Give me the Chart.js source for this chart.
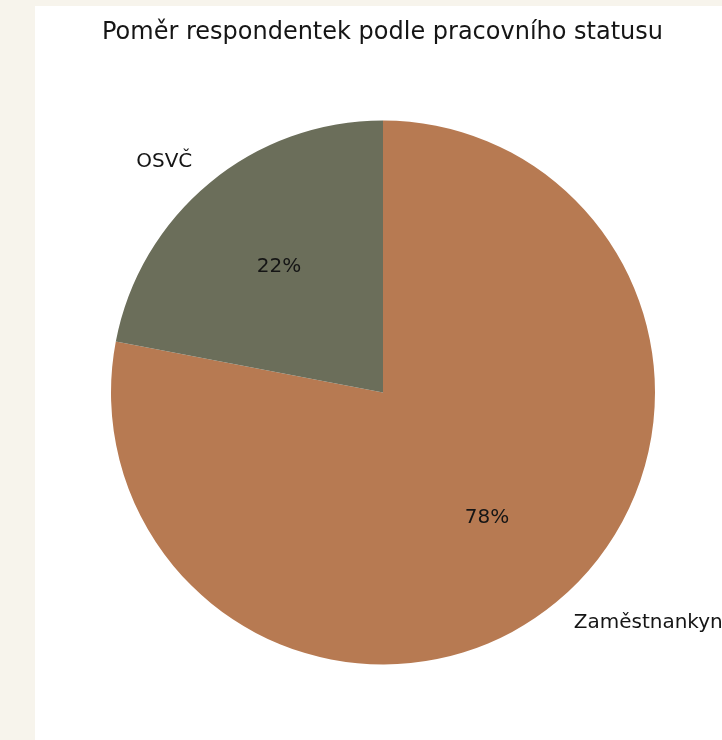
<!DOCTYPE html>
<html><head><meta charset="utf-8">
<script src="https://cdn.jsdelivr.net/npm/chart.js@4/dist/chart.umd.min.js"></script>
<style>
html,body{margin:0;padding:0;background:#f7f4ec;width:722px;height:740px;overflow:hidden}
#box{position:absolute;left:35px;top:6px;width:687px;height:734px;background:#fff}
</style></head><body>
<div id="box"><canvas id="c" width="687" height="734"></canvas></div>
<script>
const title = "Poměr respondentek podle pracovního statusu";
const categories = ["Zaměstnankyně", "OSVČ"];
const values = [78, 22];
const colors = ["#b77a52", "#6b6e5a"];

const labelPlugin = {
  id: 'labels',
  afterDatasetsDraw(chart) {
    const ctx = chart.ctx;
    const meta = chart.getDatasetMeta(0);
    const total = values.reduce((a, b) => a + b, 0);
    ctx.save();
    ctx.fillStyle = '#151515';
    meta.data.forEach((arc, i) => {
      const p = arc.getProps(['x', 'y', 'startAngle', 'endAngle', 'outerRadius'], true);
      const mid = (p.startAngle + p.endAngle) / 2;
      const c = Math.cos(mid), s = Math.sin(mid);
      ctx.font = '20px "DejaVu Sans"';
      ctx.textBaseline = 'middle';
      ctx.textAlign = 'center';
      const pct = Math.round(values[i] / total * 100) + '%';
      ctx.fillText(pct, p.x + c * p.outerRadius * 0.6, p.y + s * p.outerRadius * 0.6);
      ctx.textAlign = c >= 0 ? 'left' : 'right';
      ctx.fillText(categories[i], p.x + c * p.outerRadius * 1.1, p.y + s * p.outerRadius * 1.1);
    });
    ctx.font = '24px "DejaVu Sans"';
    ctx.textAlign = 'center';
    ctx.textBaseline = 'middle';
    ctx.fillText(title, 347.5, 27);
    ctx.restore();
  }
};

new Chart(document.getElementById('c'), {
  type: 'pie',
  data: { labels: categories, datasets: [{ data: values, backgroundColor: colors, borderWidth: 0 }] },
  options: {
    responsive: false,
    animation: false,
    rotation: 0,
    layout: { padding: { left: 76, right: 67, top: 114.5, bottom: 75.5 } },
    plugins: { legend: { display: false }, tooltip: { enabled: false }, title: { display: false } }
  },
  plugins: [labelPlugin]
});
</script>
</body></html>
